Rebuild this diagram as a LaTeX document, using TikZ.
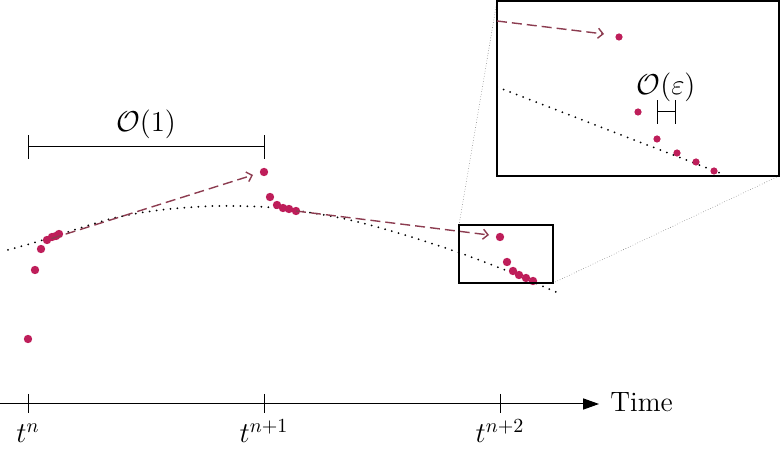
\documentclass[tikz,border=0pt]{standalone}
\usetikzlibrary{arrows.meta}
\definecolor{dotc}{RGB}{190,30,90}
\definecolor{arrc}{RGB}{140,60,80}
\begin{document}
\begin{tikzpicture}[x=0.5pt,y=-0.5pt, font=\fontsize{14}{16}\selectfont,
  dotn/.style={circle,fill=dotc,inner sep=0pt,minimum size=4.2pt},
  idot/.style={circle,fill=dotc,inner sep=0pt,minimum size=3.6pt},
  traj/.style={draw=black,line width=1pt,line cap=round,dash pattern=on 0pt off 3.5pt},
  pred/.style={draw=arrc,line width=0.7pt,dash pattern=on 5pt off 2.5pt,-{Straight Barb[length=2.5pt,width=5pt]}},
  zoomln/.style={draw=gray,line width=0.4pt,line cap=round,dash pattern=on 0pt off 1.3pt},
  tickln/.style={draw,line width=0.5pt}]
\useasboundingbox (0,0) rectangle (781,453);

% time axis
\coordinate (a0) at (0,404);
\coordinate (a1) at (599,404);
\draw[line width=0.5pt,-{Triangle[length=8pt,width=5.6pt]}] (a0) -- (a1);
\node[anchor=west,inner sep=0pt] (time) at (610,402) {Time};
\foreach \x/\n/\l in {28/t0/{t^n},264/t1/{t^{n+1}},500/t2/{t^{n+2}}}{
  \coordinate (\n u) at (\x,394);
  \coordinate (\n d) at (\x,413);
  \draw[tickln] (\n u) -- (\n d);
  \node[anchor=base] (\n l) at (\x,443) {$\l$};
}

% O(1) bracket
\coordinate (b0) at (28,147);
\coordinate (b1) at (264,147);
\draw[tickln] (b0) -- (b1);
\draw[tickln] ([yshift=-6]b0) -- ([yshift=6]b0);
\draw[tickln] ([yshift=-6]b1) -- ([yshift=6]b1);
\node (o1) at (146,124) {$\mathcal{O}(1)$};

% exact trajectory
\draw[traj] plot[smooth] coordinates {(8,250) (43,240) (110,219) (160,210) (215,206) (265,207) (300,211) (350,220) (405,235) (460,253) (510,272) (558,293)};

% numerical points
\foreach \p/\q [count=\i] in {28/339,35/270,41/249,47/240,52/237,56/236,59/234}
  \node[dotn] (p\i) at (\p,\q) {};
\foreach \p/\q [count=\i] in {264/172,270/197,277/205,283/208,289/209,296/211}
  \node[dotn] (q\i) at (\p,\q) {};
\foreach \p/\q [count=\i] in {500/237,507/262,513/271,519/275,526/278,533/281}
  \node[dotn] (r\i) at (\p,\q) {};

% predictor arrows
\coordinate (e1) at (253,175);
\coordinate (e2) at (489,235);
\draw[pred] (p4) -- (e1);
\draw[pred] (q6.center) -- (e2);

% zoom box and guide lines
\coordinate (s0) at (459,225);
\coordinate (s1) at (553,283);
\coordinate (z0) at (497,1);
\coordinate (z1) at (779,176);
\draw[zoomln] (s0) -- (z0);
\draw[zoomln] (s1) -- (z1);
\draw[line width=0.6pt] (s0) rectangle (s1);
\fill[white] (z0) rectangle (z1);
\draw[line width=0.7pt] (z0) rectangle (z1);

% inset content
\coordinate (i0) at (497,87);
\coordinate (i1) at (725,175);
\draw[traj] (i0) -- (i1);
\coordinate (ia) at (497,21);
\coordinate (ib) at (604,34);
\draw[pred] (ia) -- (ib);
\foreach \p/\q [count=\i] in {619/37,638/112,657/139,677/153,696/162,714/171}
  \node[idot] (u\i) at (\p,\q) {};
\coordinate (c0) at (657,112);
\coordinate (c1) at (675,112);
\draw[tickln] (c0) -- (c1);
\draw[tickln] ([yshift=-6]c0) -- ([yshift=6]c0);
\draw[tickln] ([yshift=-6]c1) -- ([yshift=6]c1);
\node (oe) at (666,87) {$\mathcal{O}(\varepsilon)$};
\end{tikzpicture}
\end{document}
